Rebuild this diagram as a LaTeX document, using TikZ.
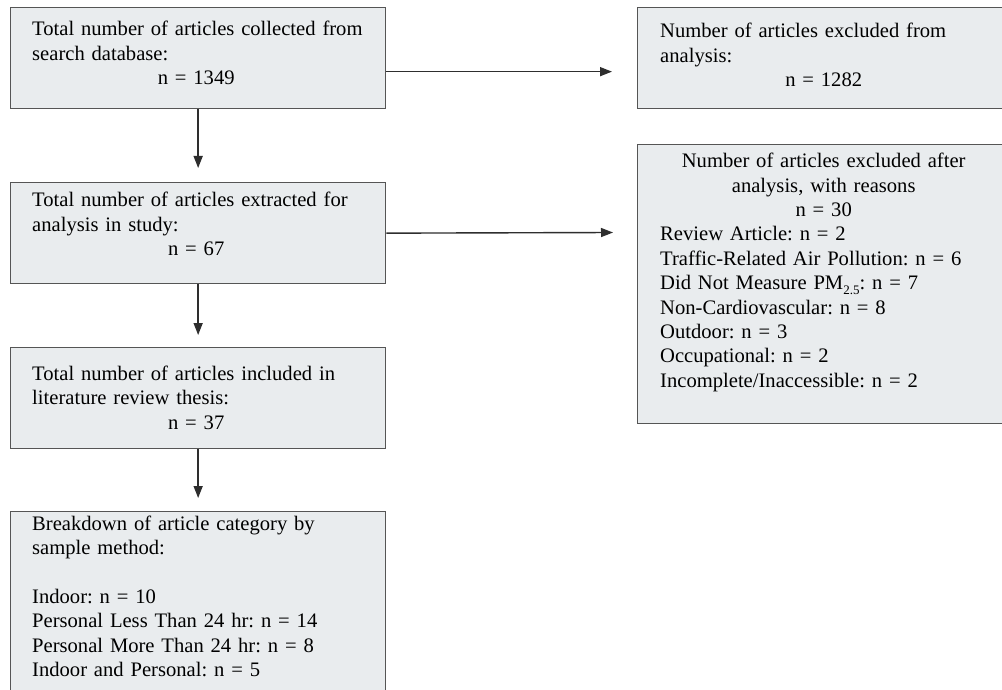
\documentclass[tikz,border=0pt]{standalone}
\usepackage{fontspec}
\setmainfont{Liberation Serif}
\usetikzlibrary{arrows.meta}
\definecolor{boxfill}{HTML}{E9ECEE}
\definecolor{boxline}{HTML}{555555}
\definecolor{arrline}{HTML}{2E2E2E}
\frenchspacing
\newcommand{\lowsub}[1]{\raisebox{-5pt}{\fontsize{13}{13}\selectfont #1}}
\begin{document}
\begin{tikzpicture}[x=1pt,y=-1pt,
  box/.style={draw=boxline, fill=boxfill, line width=1.3pt, rectangle, anchor=north west, inner sep=0pt},
  txt/.style={anchor=base west, inner sep=0pt, text width=370pt, align=left, text=black,
              font=\fontsize{20.6}{24.4}\selectfont\frenchspacing},
  arr/.style={draw=arrline, line width=1.4pt, -{Triangle[length=12pt,width=9pt]}}]
\useasboundingbox (0,0) rectangle (1002,690);
\fill[white] (0,0) rectangle (1002,690);

% boxes
\node[box, minimum width=375pt, minimum height=101pt] (b1) at (10,7) {};
\node[box, minimum width=373pt, minimum height=101pt] (b2) at (637,7) {};
\node[box, minimum width=375pt, minimum height=101pt] (b3) at (10,182) {};
\node[box, minimum width=373pt, minimum height=279pt] (b4) at (637,144) {};
\node[box, minimum width=375pt, minimum height=101pt] (b5) at (10,347) {};
\node[box, minimum width=375pt, minimum height=195pt] (b6) at (10,511) {};

% texts
\node[txt] (t1) at (32,36) {Total number of articles collected from\\search database:\\\makebox[328pt]{n = 1349}};
\node[txt] (t2) at (660,38) {Number of articles excluded from\\analysis:\\\makebox[327pt]{n = 1282}};
\node[txt] (t3) at (32,207) {Total number of articles extracted for\\analysis in study:\\\makebox[328pt]{n = 67}};
\node[txt] (t4) at (660,167.7) {\makebox[327pt]{Number of articles excluded after}\\\makebox[327pt]{analysis, with reasons}\\\makebox[327pt]{n = 30}\\Review Article: n = 2\\Traffic-Related Air Pollution: n = 6\\Did Not Measure PM\lowsub{2.5}: n = 7\\Non-Cardiovascular: n = 8\\Outdoor: n = 3\\Occupational: n = 2\\Incomplete/Inaccessible: n = 2};
\node[txt] (t5) at (32,380.5) {Total number of articles included in\\literature review thesis:\\\makebox[328pt]{n = 37}};
\node[txt] (t6) at (32,530) {Breakdown of article category by\\sample method:\\\mbox{}\\Indoor: n = 10\\Personal Less Than 24 hr: n = 14\\Personal More Than 24 hr: n = 8\\Indoor and Personal: n = 5};

% connectors
\coordinate (e2) at (613,232.5);
\draw[arr] ([yshift=-13.5pt]b1.east) -- ([xshift=-25pt,yshift=-13.5pt]b2.west);
\draw[arr] (b3.east) -- (e2);
\draw[arr] (b1.south) -- ([yshift=14pt]b3.north);
\draw[arr] (b3.south) -- ([yshift=12pt]b5.north);
\draw[arr] (b5.south) -- ([yshift=13pt]b6.north);
\end{tikzpicture}
\end{document}
